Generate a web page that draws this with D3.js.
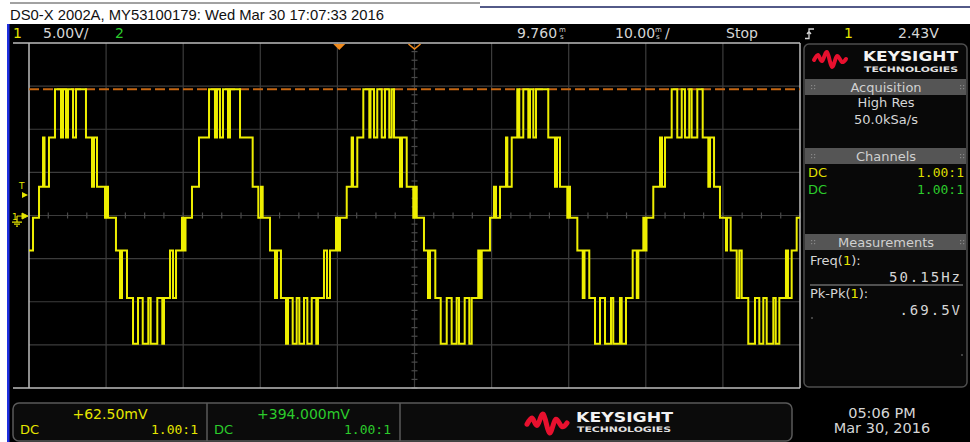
<!DOCTYPE html>
<html>
<head>
<meta charset="utf-8">
<style>
body { margin: 0; background: #fff; }
svg { display: block; }
text { font-family: "DejaVu Sans", Arial, sans-serif; }
.mono { font-family: "DejaVu Sans Mono", monospace; }
</style>
</head>
<body>
<svg width="970" height="442"></svg>
<script src="https://cdn.jsdelivr.net/npm/d3@7"></script>
<script>

// ---- data ----
var titleText = "DS0-X 2002A, MY53100179: Wed Mar 30 17:07:33 2016";

// channel 1 trace: [time in ms from left edge of screen, volts], held until next step
var ch1Steps = [
  [0.00,-4.0],[0.52,-0.2],[1.30,3.4],[1.82,9.1],[2.01,3.4],[2.59,9.1],[3.37,14.7],[4.15,9.1],
  [4.41,14.7],[4.80,9.1],[5.06,14.7],[5.71,9.1],[6.10,14.7],[7.39,9.1],[8.17,3.4],[8.43,9.1],
  [8.82,3.4],[9.86,-0.2],[10.12,3.4],[10.25,-0.2],[11.28,-4.0],[11.80,-9.5],[12.06,-4.0],[12.71,-9.5],
  [13.49,-14.8],[14.14,-9.5],[14.75,-14.8],[15.47,-9.5],[15.78,-14.8],[16.64,-9.5],[17.29,-14.8],[17.51,-9.5],
  [18.29,-4.0],[18.68,-9.5],[19.07,-4.0],[19.84,-0.2],[20.10,-4.0],[20.30,-0.2],[21.14,3.4],[22.05,9.1],
  [23.35,14.7],[24.12,9.1],[24.38,14.7],[24.77,9.1],[25.16,14.7],[25.81,9.1],[26.07,14.7],[27.37,9.1],
  [29.01,3.4],[29.74,-0.2],[30.09,3.4],[30.31,-0.2],[31.26,-4.0],[31.91,-9.5],[32.17,-4.0],[32.68,-9.5],
  [33.33,-14.8],[33.59,-9.5],[34.20,-14.8],[34.72,-9.5],[35.06,-14.8],[35.67,-9.5],[36.10,-14.8],[36.67,-9.5],
  [37.26,-14.8],[37.48,-9.5],[38.26,-4.0],[38.65,-9.5],[39.04,-4.0],[39.82,-0.2],[40.08,-4.0],[40.34,-0.2],
  [41.21,3.4],[41.85,9.1],[42.02,3.4],[42.58,9.1],[43.36,14.7],[44.14,9.1],[44.29,14.7],[44.75,9.1],
  [45.17,14.7],[45.75,9.1],[46.17,14.7],[46.73,9.1],[47.04,14.7],[47.34,9.1],[48.12,3.4],[48.38,9.1],
  [48.99,3.4],[49.84,-0.2],[50.06,3.4],[50.29,-0.2],[51.23,-4.0],[51.75,-9.5],[52.01,-4.0],[52.70,-9.5],
  [53.40,-14.8],[54.18,-9.5],[54.82,-14.8],[55.47,-9.5],[55.77,-14.8],[56.51,-9.5],[57.11,-14.8],[57.42,-9.5],
  [58.27,-4.0],[58.50,-9.5],[58.72,-4.0],[59.79,-0.2],[60.31,3.4],[60.57,-0.2],[61.09,3.4],[61.87,9.1],
  [62.04,3.4],[62.61,9.1],[63.33,14.7],[63.59,9.1],[64.11,14.7],[64.76,9.1],[64.98,14.7],[65.41,9.1],
  [65.76,14.7],[67.35,9.1],[68.22,3.4],[68.48,9.1],[68.87,3.4],[69.82,-0.2],[70.04,3.4],[70.17,-0.2],
  [71.12,-4.0],[71.82,-9.5],[72.05,-4.0],[72.67,-9.5],[73.41,-14.8],[74.06,-9.5],[74.71,-14.8],[75.49,-9.5],
  [75.78,-14.8],[76.65,-9.5],[76.87,-14.8],[77.43,-9.5],[78.30,-4.0],[78.83,-9.5],[79.03,-4.0],[79.68,-0.2],
  [79.90,-4.0],[80.09,-0.2],[80.97,3.4],[81.84,9.1],[82.10,3.4],[82.49,9.1],[83.36,14.7],[84.08,9.1],
  [84.66,14.7],[85.08,9.1],[85.64,14.7],[85.95,9.1],[86.68,14.7],[87.38,9.1],[88.11,3.4],[88.33,9.1],
  [88.85,3.4],[89.62,-0.2],[90.40,-4.0],[90.53,-0.2],[91.01,-4.0],[91.79,-9.5],[92.13,-4.0],[92.44,-9.5],
  [93.29,-14.8],[94.16,-9.5],[94.72,-14.8],[95.24,-9.5],[95.68,-14.8],[96.54,-9.5],[96.85,-14.8],[97.32,-9.5],
  [98.18,-4.0],[98.44,-9.5],[98.92,-4.0],[99.57,-0.2],[100.0,-0.2]
];

var voltsPerDiv = 5, msPerDiv = 10, xDivs = 10, yDivs = 8;
var ch1Offset = 0.0625;      // V at screen centre
var triggerLevel = 2.43;     // V
var triggerTime = 40.24;     // ms from left edge (delay 9.760 ms)
var markerLevel = 14.7;      // orange dashed level

var acquisition = ["High Res", "50.0kSa/s"];
var channelRows = [{coupling: "DC", probe: "1.00:1", color: "#dede00"},
                   {coupling: "DC", probe: "1.00:1", color: "#2ccb2c"}];
var measNames = ["Freq", "Pk-Pk"];
var measValues = ["50.15Hz", ".69.5V"];
var bottomOffsets = ["+62.50mV", "+394.000mV"];
var clockLines = ["05:06 PM", "Mar 30, 2016"];

var yellow = "#e6e600", green = "#2ccb2c", grey = "#d6d6d6";

var svg = d3.select("svg"),
    width = +svg.attr("width"),
    height = +svg.attr("height");

// graticule scales
var x = d3.scaleLinear().domain([0, msPerDiv * xDivs]).range([29, 800]);
var y = d3.scaleLinear()
    .domain([ch1Offset - voltsPerDiv * yDivs / 2, ch1Offset + voltsPerDiv * yDivs / 2])
    .range([388, 43]);
var gx = d3.scaleLinear().domain([0, xDivs]).range([29, 800]);
var gy = d3.scaleLinear().domain([0, yDivs]).range([43, 388]);

// backgrounds
svg.append("rect").attr("width", width).attr("height", height).attr("fill", "#fff");
svg.append("rect").attr("x", 9).attr("y", 24).attr("width", width - 9).attr("height", height - 24).attr("fill", "#000");
svg.append("rect").attr("x", 7).attr("y", 24).attr("width", 2.5).attr("height", height - 24).attr("fill", "#1f2fe0");
svg.append("line").attr("x1", 10).attr("x2", 480).attr("y1", 3).attr("y2", 3).attr("stroke", "#444").attr("stroke-width", 1);
svg.append("line").attr("x1", 480).attr("x2", width).attr("y1", 7).attr("y2", 7).attr("stroke", "#1a2360").attr("stroke-width", 1.5);

svg.append("text").attr("x", 10).attr("y", 20)
    .style("font-family", "'Liberation Sans', Arial, sans-serif")
    .attr("font-size", 14.8).attr("fill", "#111").text(titleText);

// ---- status bar ----
var statusBar = svg.append("g").attr("font-size", 14);
statusBar.append("text").attr("x", 13).attr("y", 38).attr("fill", yellow).text("1");
statusBar.append("text").attr("x", 43).attr("y", 38).attr("fill", grey).text("5.00V/");
statusBar.append("text").attr("x", 115).attr("y", 38).attr("fill", green).text("2");
statusBar.append("text").attr("x", 517).attr("y", 38).attr("fill", grey).text("9.760");
statusBar.append("text").attr("x", 615).attr("y", 38).attr("fill", grey).text("10.00");
[559, 655].forEach(function(px) {
  statusBar.append("text").attr("x", px).attr("y", 32).attr("font-size", 7).attr("fill", grey).text("m");
  statusBar.append("text").attr("x", px + 1).attr("y", 38.5).attr("font-size", 7).attr("fill", grey).text("s");
});
statusBar.append("text").attr("x", 665).attr("y", 38).attr("fill", grey).text("/");
statusBar.append("text").attr("x", 726).attr("y", 38).attr("fill", grey).text("Stop");
statusBar.append("path").attr("d", "M805,38.5 H809 V29 H814 M807,34 L809,31.5 L811,34")
    .attr("fill", "none").attr("stroke", grey).attr("stroke-width", 1.3);
statusBar.append("text").attr("x", 844).attr("y", 38).attr("fill", yellow).text("1");
statusBar.append("text").attr("x", 898).attr("y", 38).attr("fill", grey).text("2.43V");

// ---- graticule ----
var grid = svg.append("g");
grid.selectAll(".vl").data(d3.range(1, xDivs)).enter().append("line")
    .attr("x1", gx).attr("x2", gx).attr("y1", 43).attr("y2", 388)
    .attr("stroke", "#3c3c3c").attr("stroke-width", 1.2);
grid.selectAll(".hl").data(d3.range(1, yDivs)).enter().append("line")
    .attr("y1", gy).attr("y2", gy).attr("x1", 29).attr("x2", 800)
    .attr("stroke", "#3c3c3c").attr("stroke-width", 1.2);
// minor ticks on centre lines
grid.selectAll(".tx").data(d3.range(0, xDivs + 0.01, 0.25)).enter().append("line")
    .attr("x1", gx).attr("x2", gx).attr("y1", gy(4) - 3).attr("y2", gy(4) + 3)
    .attr("stroke", "#4a4a4a").attr("stroke-width", 1.2);
grid.selectAll(".ty").data(d3.range(0, yDivs + 0.01, 0.2)).enter().append("line")
    .attr("y1", gy).attr("y2", gy).attr("x1", gx(5) - 3).attr("x2", gx(5) + 3)
    .attr("stroke", "#4a4a4a").attr("stroke-width", 1.2);
// border
grid.append("line").attr("x1", 13).attr("x2", 800).attr("y1", 43).attr("y2", 43).attr("stroke", "#bdbdbd").attr("stroke-width", 1.5);
grid.append("line").attr("x1", 13).attr("x2", 800).attr("y1", 388).attr("y2", 388).attr("stroke", "#bdbdbd").attr("stroke-width", 1.5);
grid.append("line").attr("x1", 29).attr("x2", 29).attr("y1", 43).attr("y2", 388).attr("stroke", "#bdbdbd").attr("stroke-width", 1.5);
grid.append("line").attr("x1", 800).attr("x2", 800).attr("y1", 43).attr("y2", 388).attr("stroke", "#bdbdbd").attr("stroke-width", 1.5);

// orange level marker
svg.append("line").attr("x1", 29).attr("x2", 800).attr("y1", y(markerLevel)).attr("y2", y(markerLevel))
    .attr("stroke", "#c46612").attr("stroke-width", 2).attr("stroke-dasharray", "10,4");

// trigger position markers on top edge
var tx = x(triggerTime);
svg.append("path").attr("d", "M" + (tx - 6) + ",44 L" + (tx + 6) + ",44 L" + tx + ",50 Z").attr("fill", "#f08a1c");
svg.append("path").attr("d", "M" + (gx(5) - 6) + ",44 L" + gx(5) + ",49 L" + (gx(5) + 6) + ",44")
    .attr("fill", "none").attr("stroke", "#f08a1c").attr("stroke-width", 1.6);

// ---- trace ----
svg.append("clipPath").attr("id", "scr").append("rect")
    .attr("x", 29).attr("y", 43).attr("width", 771).attr("height", 345);

var line = d3.line()
    .x(function(d) { return x(d[0]); })
    .y(function(d) { return y(d[1]); })
    .curve(d3.curveStepAfter);

svg.append("path").datum(ch1Steps)
    .attr("clip-path", "url(#scr)")
    .attr("d", line)
    .attr("fill", "none")
    .attr("stroke", "#eeee00")
    .attr("stroke-width", 2);

// ---- left markers ----
var ty = y(triggerLevel), gndY = y(0);
svg.append("text").attr("x", 19).attr("y", ty - 6).attr("font-size", 9).attr("fill", yellow).text("T");
svg.append("path").attr("d", "M22," + (ty - 3) + " L28," + ty + " L22," + (ty + 3) + " Z").attr("fill", yellow);
svg.append("text").attr("x", 12).attr("y", gndY + 4).attr("font-size", 9).attr("fill", yellow).text("1");
svg.append("path").attr("d", "M17," + gndY + " H22 M22," + (gndY - 3) + " L28," + gndY + " L22," + (gndY + 3) + " Z")
    .attr("fill", yellow).attr("stroke", yellow).attr("stroke-width", 1);
svg.append("path").attr("d", "M17," + gndY + " V" + (gndY + 6) + " M12," + (gndY + 6) + " H22 M14," + (gndY + 8) + " H20 M16," + (gndY + 10) + " H18")
    .attr("fill", "none").attr("stroke", yellow).attr("stroke-width", 1.2);

// ---- keysight logo ----
function drawLogo(g, lx, ly, s) {
  var wave = [[0, 9], [4, 4], [8, 10], [13, 1], [18, 16], [23, 5], [28, 11], [32, 8]];
  g.append("path")
      .datum(wave)
      .attr("d", d3.line().x(function(d) { return lx + d[0] * s; }).y(function(d) { return ly + d[1] * s; }).curve(d3.curveCardinal))
      .attr("fill", "none").attr("stroke", "#e8102e").attr("stroke-width", 4 * s)
      .attr("stroke-linecap", "round").attr("stroke-linejoin", "round");
}

// ---- right panel ----
var panel = svg.append("g");
panel.append("rect").attr("x", 804).attr("y", 44).attr("width", 163).attr("height", 343).attr("rx", 5)
    .attr("fill", "#080808").attr("stroke", "#4e4e4e").attr("stroke-width", 1.5);
drawLogo(panel, 814, 51, 1);
panel.append("text").attr("x", 863).attr("y", 61).attr("font-size", 14).attr("font-weight", "bold")
    .attr("fill", "#f2f2f2").attr("textLength", 95).attr("lengthAdjust", "spacingAndGlyphs").text("KEYSIGHT");
panel.append("text").attr("x", 864).attr("y", 72).attr("font-size", 7.5).attr("font-weight", "bold")
    .attr("fill", "#e0e0e0").attr("textLength", 94).attr("lengthAdjust", "spacingAndGlyphs").text("TECHNOLOGIES");

var headers = [{t: "Acquisition", y: 79}, {t: "Channels", y: 148}, {t: "Measurements", y: 234}];
headers.forEach(function(h) {
  panel.append("rect").attr("x", 805).attr("y", h.y).attr("width", 161).attr("height", 16).attr("fill", "#555");
  panel.append("text").attr("x", 886).attr("y", h.y + 12.5).attr("text-anchor", "middle")
      .attr("font-size", 13).attr("fill", "#d0d0d0").text(h.t);
  [811, 960].forEach(function(px) {
    panel.selectAll(null).data([[0, 0], [3, 0], [0, 3], [3, 3]]).enter().append("rect")
        .attr("x", function(d) { return px + d[0]; }).attr("y", function(d) { return h.y + 6 + d[1]; })
        .attr("width", 1.2).attr("height", 1.2).attr("fill", "#888");
  });
});

panel.selectAll(".acq").data(acquisition).enter().append("text")
    .attr("x", 886).attr("y", function(d, i) { return 107 + i * 17; })
    .attr("text-anchor", "middle").attr("font-size", 13).attr("fill", grey)
    .text(function(d) { return d; });

channelRows.forEach(function(c, i) {
  var yy = 177 + i * 17;
  panel.append("text").attr("x", 808).attr("y", yy).attr("font-size", 13).attr("fill", c.color).text(c.coupling);
  panel.append("text").attr("class", "mono").attr("x", 964).attr("y", yy).attr("text-anchor", "end")
      .attr("font-size", 13).attr("fill", c.color).text(c.probe);
});

measNames.forEach(function(n, i) {
  var yy = 265 + i * 33;
  var t = panel.append("text").attr("x", 810).attr("y", yy).attr("font-size", 13).attr("fill", grey);
  t.append("tspan").text(n + "(");
  t.append("tspan").attr("fill", yellow).text("1");
  t.append("tspan").text("):");
  panel.append("text").attr("class", "mono").attr("x", 962).attr("y", yy + 17).attr("text-anchor", "end")
      .attr("font-size", 14).attr("letter-spacing", 2).attr("fill", grey).text(measValues[i]);
});
panel.append("line").attr("x1", 810).attr("x2", 963).attr("y1", 285).attr("y2", 285).attr("stroke", "#9a9a9a").attr("stroke-width", 1);
panel.append("circle").attr("cx", 812).attr("cy", 318).attr("r", 0.7).attr("fill", "#aaa");
panel.append("circle").attr("cx", 962).attr("cy", 355).attr("r", 0.7).attr("fill", "#aaa");

// ---- bottom bar ----
var bot = svg.append("g");
bot.append("rect").attr("x", 13).attr("y", 403).attr("width", 779).attr("height", 38).attr("rx", 6)
    .attr("fill", "#0b0b0b").attr("stroke", "#5a5a5a").attr("stroke-width", 1.5);
[207, 400].forEach(function(px) {
  bot.append("line").attr("x1", px).attr("x2", px).attr("y1", 403).attr("y2", 441).attr("stroke", "#5a5a5a").attr("stroke-width", 1.5);
});
var boxes = [{x0: 13, x1: 207, color: yellow}, {x0: 207, x1: 400, color: green}];
boxes.forEach(function(b, i) {
  bot.append("text").attr("x", (b.x0 + b.x1) / 2).attr("y", 419).attr("text-anchor", "middle")
      .attr("font-size", 14).attr("fill", b.color).text(bottomOffsets[i]);
  bot.append("text").attr("x", b.x0 + 7).attr("y", 434).attr("font-size", 13).attr("fill", b.color).text(channelRows[i].coupling);
  bot.append("text").attr("class", "mono").attr("x", b.x1 - 9).attr("y", 434).attr("text-anchor", "end")
      .attr("font-size", 13).attr("fill", b.color).text(channelRows[i].probe);
});
drawLogo(bot, 527, 413, 1.25);
bot.append("text").attr("x", 576).attr("y", 421.5).attr("font-size", 13.5).attr("font-weight", "bold")
    .attr("fill", "#f2f2f2").attr("textLength", 97).attr("lengthAdjust", "spacingAndGlyphs").text("KEYSIGHT");
bot.append("text").attr("x", 577).attr("y", 432).attr("font-size", 7.5).attr("font-weight", "bold")
    .attr("fill", "#e0e0e0").attr("textLength", 94).attr("lengthAdjust", "spacingAndGlyphs").text("TECHNOLOGIES");

bot.selectAll(".clk").data(clockLines).enter().append("text")
    .attr("x", 882).attr("y", function(d, i) { return 418 + i * 15; })
    .attr("text-anchor", "middle").attr("font-size", 14.5).attr("fill", grey)
    .text(function(d) { return d; });

</script>
</body>
</html>
